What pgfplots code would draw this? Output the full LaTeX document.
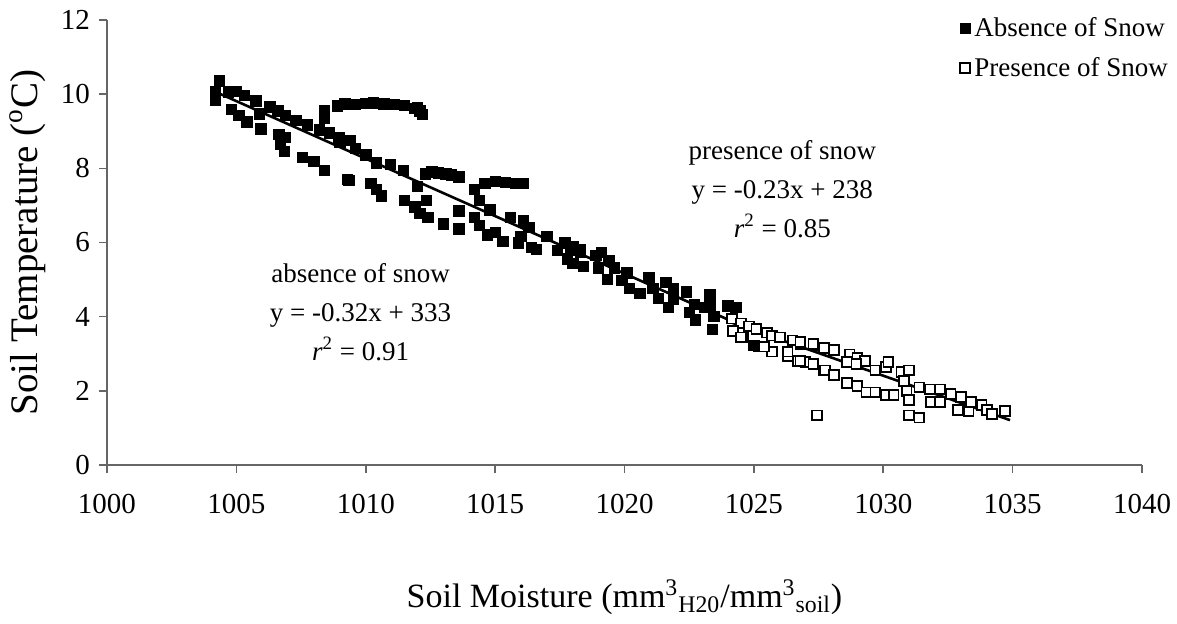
\documentclass[border=0pt]{standalone}
\usepackage{pgfplots}
\pgfplotsset{compat=1.18}
\usepackage{fontspec}
\setmainfont{Liberation Serif}

\pgfplotstableread{
x y
1004.35 10.36
1004.2 10.06
1004.2 9.85
1004.7 10.06
1005.0 10.08
1005.3 9.97
1005.76 9.82
1004.8 9.59
1005.1 9.42
1005.4 9.25
1005.95 9.06
1005.9 9.47
1006.3 9.66
1006.6 9.55
1006.9 9.42
1007.3 9.30
1007.75 9.17
1008.2 9.04
1008.4 9.55
1008.4 9.34
1008.9 9.68
1009.2 9.74
1009.6 9.72
1010.0 9.75
1010.3 9.76
1010.7 9.74
1011.1 9.72
1011.5 9.70
1011.9 9.62
1012.0 9.65
1012.1 9.55
1012.2 9.45
1008.6 8.96
1008.96 8.83
1009.0 8.70
1009.4 8.75
1006.65 8.91
1006.9 8.83
1006.7 8.66
1006.85 8.45
1007.55 8.30
1008.0 8.19
1008.4 7.94
1009.3 7.70
1009.6 8.53
1010.0 8.36
1010.4 8.15
1010.95 8.11
1011.46 7.94
1009.35 7.68
1010.2 7.60
1010.4 7.43
1010.6 7.26
1011.5 7.13
1011.9 6.96
1012.1 6.79
1012.4 6.67
1012.0 7.51
1012.3 7.85
1012.55 7.90
1012.8 7.88
1013.1 7.85
1013.3 7.82
1013.6 7.77
1012.35 7.13
1013.0 6.50
1013.6 6.85
1013.6 6.37
1014.2 7.43
1014.4 7.13
1014.2 6.67
1014.4 6.46
1014.6 7.60
1015.0 7.64
1015.4 7.62
1015.8 7.60
1016.1 7.60
1014.8 6.88
1015.0 6.28
1014.7 6.20
1015.3 6.03
1015.6 6.67
1016.1 6.58
1016.3 6.41
1016.0 6.16
1015.9 5.99
1016.4 5.86
1016.6 5.82
1017.0 6.16
1017.4 5.78
1017.7 5.99
1017.9 5.78
1017.8 5.56
1018.3 5.82
1018.4 5.35
1018.0 5.90
1018.3 5.73
1018.0 5.44
1018.9 5.65
1019.1 5.73
1019.4 5.52
1019.0 5.31
1019.6 5.31
1019.35 5.01
1019.9 4.97
1020.1 5.18
1020.2 4.76
1020.6 4.63
1020.95 5.06
1021.1 4.76
1021.3 4.50
1021.6 4.93
1021.7 4.25
1021.9 4.76
1021.9 4.46
1022.4 4.67
1022.5 4.12
1022.7 4.33
1022.75 3.91
1023.1 4.25
1023.3 4.59
1023.3 4.29
1023.4 3.66
1023.45 4.00
1024.0 4.29
1024.3 4.25
1024.6 3.44
1025.0 3.23
1025.2 3.19
}\absence

\pgfplotstableread{
x y
1024.15 3.95
1024.5 3.82
1024.8 3.74
1025.1 3.66
1025.5 3.57
1025.7 3.49
1026.0 3.44
1026.5 3.36
1026.8 3.27
1027.3 3.23
1027.7 3.15
1024.2 3.61
1024.5 3.44
1025.7 3.06
1026.3 2.93
1026.7 2.81
1027.0 2.77
1027.3 2.72
1027.7 2.55
1025.4 3.19
1026.3 3.06
1026.8 3.32
1027.3 3.27
1027.7 3.15
1028.1 3.10
1026.8 2.81
1027.3 2.72
1027.75 2.55
1028.1 2.42
1028.7 2.98
1029.0 2.89
1029.3 2.81
1028.6 2.77
1028.96 2.72
1028.6 2.21
1029.0 2.13
1029.35 1.96
1029.7 1.96
1029.7 2.55
1030.1 2.64
1030.2 2.77
1030.1 1.88
1030.4 1.88
1030.7 2.51
1031.0 2.55
1030.8 2.26
1030.9 2.00
1031.0 1.75
1031.4 2.09
1031.8 2.04
1031.85 1.70
1032.2 2.04
1032.2 1.70
1032.6 1.92
1033.0 1.83
1032.9 1.49
1033.3 1.45
1033.4 1.70
1033.8 1.62
1034.0 1.49
1034.2 1.37
1034.7 1.45
1027.45 1.34
1031.0 1.34
1031.4 1.28
}\presence

\begin{document}
\begin{tikzpicture}
\begin{axis}[
  scale only axis,
  width=517.5pt, height=222.5pt,
  xmin=1000, xmax=1040, ymin=0, ymax=12,
  xtick distance=5, ytick distance=2,
  axis x line=bottom, axis y line=left,
  axis line style={-, draw=gray!80!black, line width=0.8pt},
  tick style={draw=gray!80!black, line width=0.8pt},
  tick align=outside, major tick length=4pt,
  minor tick num=0,
  /pgf/number format/assume math mode=true,
  /pgf/number format/set thousands separator={},
  ticklabel style={font=\fontsize{14.5}{17}\selectfont},
  xticklabel shift=7pt,
  yticklabel shift=1pt,
  xlabel={Soil Moisture (mm\textsuperscript{3}\textsubscript{H20}/mm\textsuperscript{3}\textsubscript{soil})},
  ylabel={Soil Temperature (\textsuperscript{o}C)},
  xlabel style={font=\fontsize{17}{20}\selectfont, at={(axis description cs:0.5,-0.297)}, anchor=center},
  ylabel style={font=\fontsize{19.5}{22}\selectfont, at={(axis description cs:-0.0763,0.5)}, anchor=center},
  legend style={draw=none, fill=none, at={(rel axis cs:1.035,1.025)}, anchor=north east,
    font=\fontsize{13.5}{16}\selectfont, row sep=5pt,
    legend cell align=left},
  clip=false,
]
\addplot[only marks, mark=square*, mark size=2.6pt, mark options={fill=black, draw=black}] table[x=x,y=y]{\absence};
\addlegendentry{Absence of Snow}
\addplot[only marks, mark=square*, mark size=2.45pt, mark options={fill=white, draw=black, line width=0.9pt}] table[x=x,y=y]{\presence};
\addlegendentry{Presence of Snow}
\addplot[black, line width=1.3pt, forget plot] coordinates {(1004.2,10.06) (1025.2,3.55)};
\addplot[black, line width=1.3pt, forget plot] coordinates {(1024.1,3.85) (1034.9,1.21)};
\node[font=\fontsize{13.5}{16}\selectfont, align=center] at (axis cs:1009.8,4.13)
  {absence of snow\\[3.5pt] y = -0.32x + 333\\[3.5pt] \textit{r}\textsuperscript{2} = 0.91};
\node[font=\fontsize{13.5}{16}\selectfont, align=center] at (axis cs:1026.1,7.44)
  {presence of snow\\[3.5pt] y = -0.23x + 238\\[3.5pt] \textit{r}\textsuperscript{2} = 0.85};
\end{axis}
\pgfresetboundingbox
\path[use as bounding box] (-53.5pt,-79.5pt) rectangle (535pt,232.5pt);
\end{tikzpicture}
\end{document}
